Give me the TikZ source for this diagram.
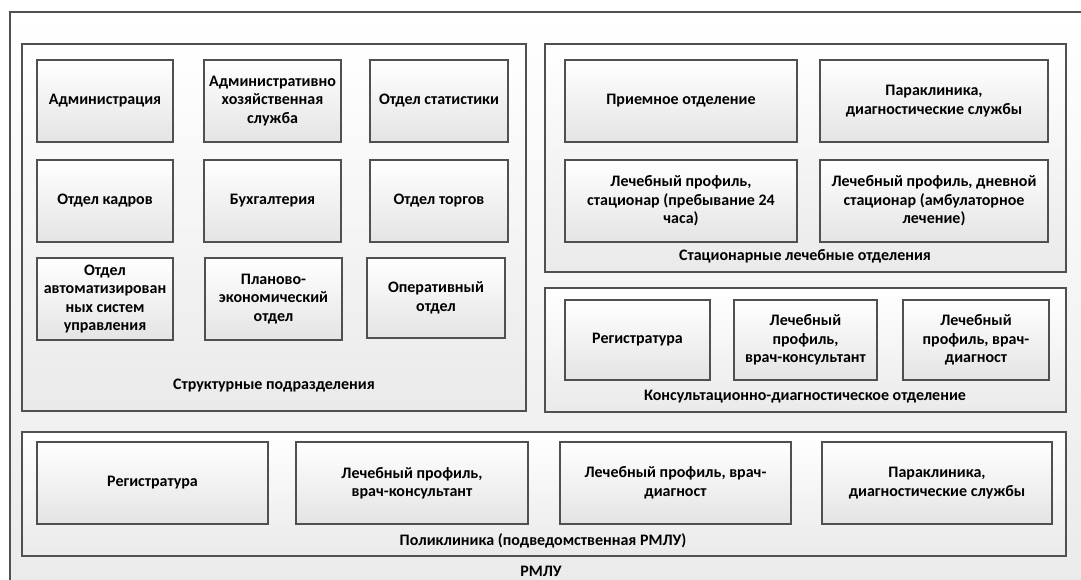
\documentclass[tikz,border=0pt]{standalone}
\usepackage{fontspec}
\setmainfont{Carlito}
\usetikzlibrary{shadows}
\definecolor{frame}{HTML}{505050}
\definecolor{boxbot}{HTML}{E4E4E4}
\definecolor{grpbot}{HTML}{EAEAEA}
\newcommand\bx[7]{\node[#1, minimum width={#5-#3}, minimum height={#6-#4}] (#2) at ({(#3+#5)/2},{(#4+#6)/2}) {#7};}
\begin{document}
\begin{tikzpicture}[x=1pt,y=-1pt,
  shad/.style={drop shadow={shadow xshift=1.3pt, shadow yshift=-1.3pt, opacity=0.3, fill=black}},
  box/.style={draw=frame, line width=1.3pt, top color=white, bottom color=boxbot, align=center,
     font=\bfseries\fontsize{16}{18.5}\selectfont, inner sep=0pt, shad},
  grp/.style={draw=frame, line width=1.3pt, top color=white, bottom color=grpbot, inner sep=0pt, shad},
  lbl/.style={font=\bfseries\fontsize{16}{18.5}\selectfont, inner sep=0pt}]
\useasboundingbox (0,0) rectangle (1081,580);
\clip (0,0) rectangle (1081,580);
\fill[white] (0,0) rectangle (1081,580);
\bx{grp}{outer}{10}{12}{1100}{600}{}
% groups
\bx{grp}{gstruct}{22}{44}{526}{411}{}
\bx{grp}{gstat}{545}{44}{1066}{272}{}
\bx{grp}{gkons}{545}{288}{1066}{412}{}
\bx{grp}{gpoli}{22}{432}{1066}{556}{}
% structural
\bx{box}{adm}{37}{60}{173}{142}{Администрация}
\bx{box}{ahs}{204}{60}{341}{142}{Административно\\хозяйственная\\служба}
\bx{box}{stat}{370}{60}{508}{142}{Отдел статистики}
\bx{box}{kadr}{37}{160}{173}{242}{Отдел кадров}
\bx{box}{buh}{204}{160}{341}{242}{Бухгалтерия}
\bx{box}{torg}{370}{160}{508}{242}{Отдел торгов}
\bx{box}{asu}{37}{258}{173}{340}{Отдел\\автоматизирован\\ных систем\\управления}
\bx{box}{plan}{205}{258}{342}{340}{Планово-\\экономический\\отдел}
\bx{box}{oper}{367}{258}{505}{338}{Оперативный\\отдел}
\node[lbl] (lstruct) at (274,386) {Структурные подразделения};
% stationary
\bx{box}{priem}{565}{60}{797}{142}{Приемное отделение}
\bx{box}{para1}{820}{60}{1048}{142}{Параклиника,\\диагностические службы}
\bx{box}{kr}{565}{160}{797}{242}{Лечебный профиль,\\стационар (пребывание 24\\часа)}
\bx{box}{dn}{820}{160}{1048}{242}{Лечебный профиль, дневной\\стационар (амбулаторное\\лечение)}
\node[lbl] (lstat) at (805,256) {Стационарные лечебные отделения};
% consult
\bx{box}{reg1}{565}{300}{710}{380}{Регистратура}
\bx{box}{kons1}{734}{300}{877}{380}{Лечебный\\профиль,\\врач-консультант}
\bx{box}{diag1}{903}{300}{1049}{380}{Лечебный\\профиль, врач-\\диагност}
\node[lbl] (lkons) at (805,397) {Консультационно-диагностическое отделение};
% polyclinic
\bx{box}{reg2}{37}{442}{268}{524}{Регистратура}
\bx{box}{kons2}{296}{442}{528}{524}{Лечебный профиль,\\врач-консультант}
\bx{box}{diag2}{560}{442}{791}{524}{Лечебный профиль, врач-\\диагност}
\bx{box}{para2}{822}{442}{1052}{524}{Параклиника,\\диагностические службы}
\node[lbl] (lpoli) at (543,541) {Поликлиника (подведомственная РМЛУ)};
\node[lbl] (lrmlu) at (541,571) {РМЛУ};
\end{tikzpicture}
\end{document}
